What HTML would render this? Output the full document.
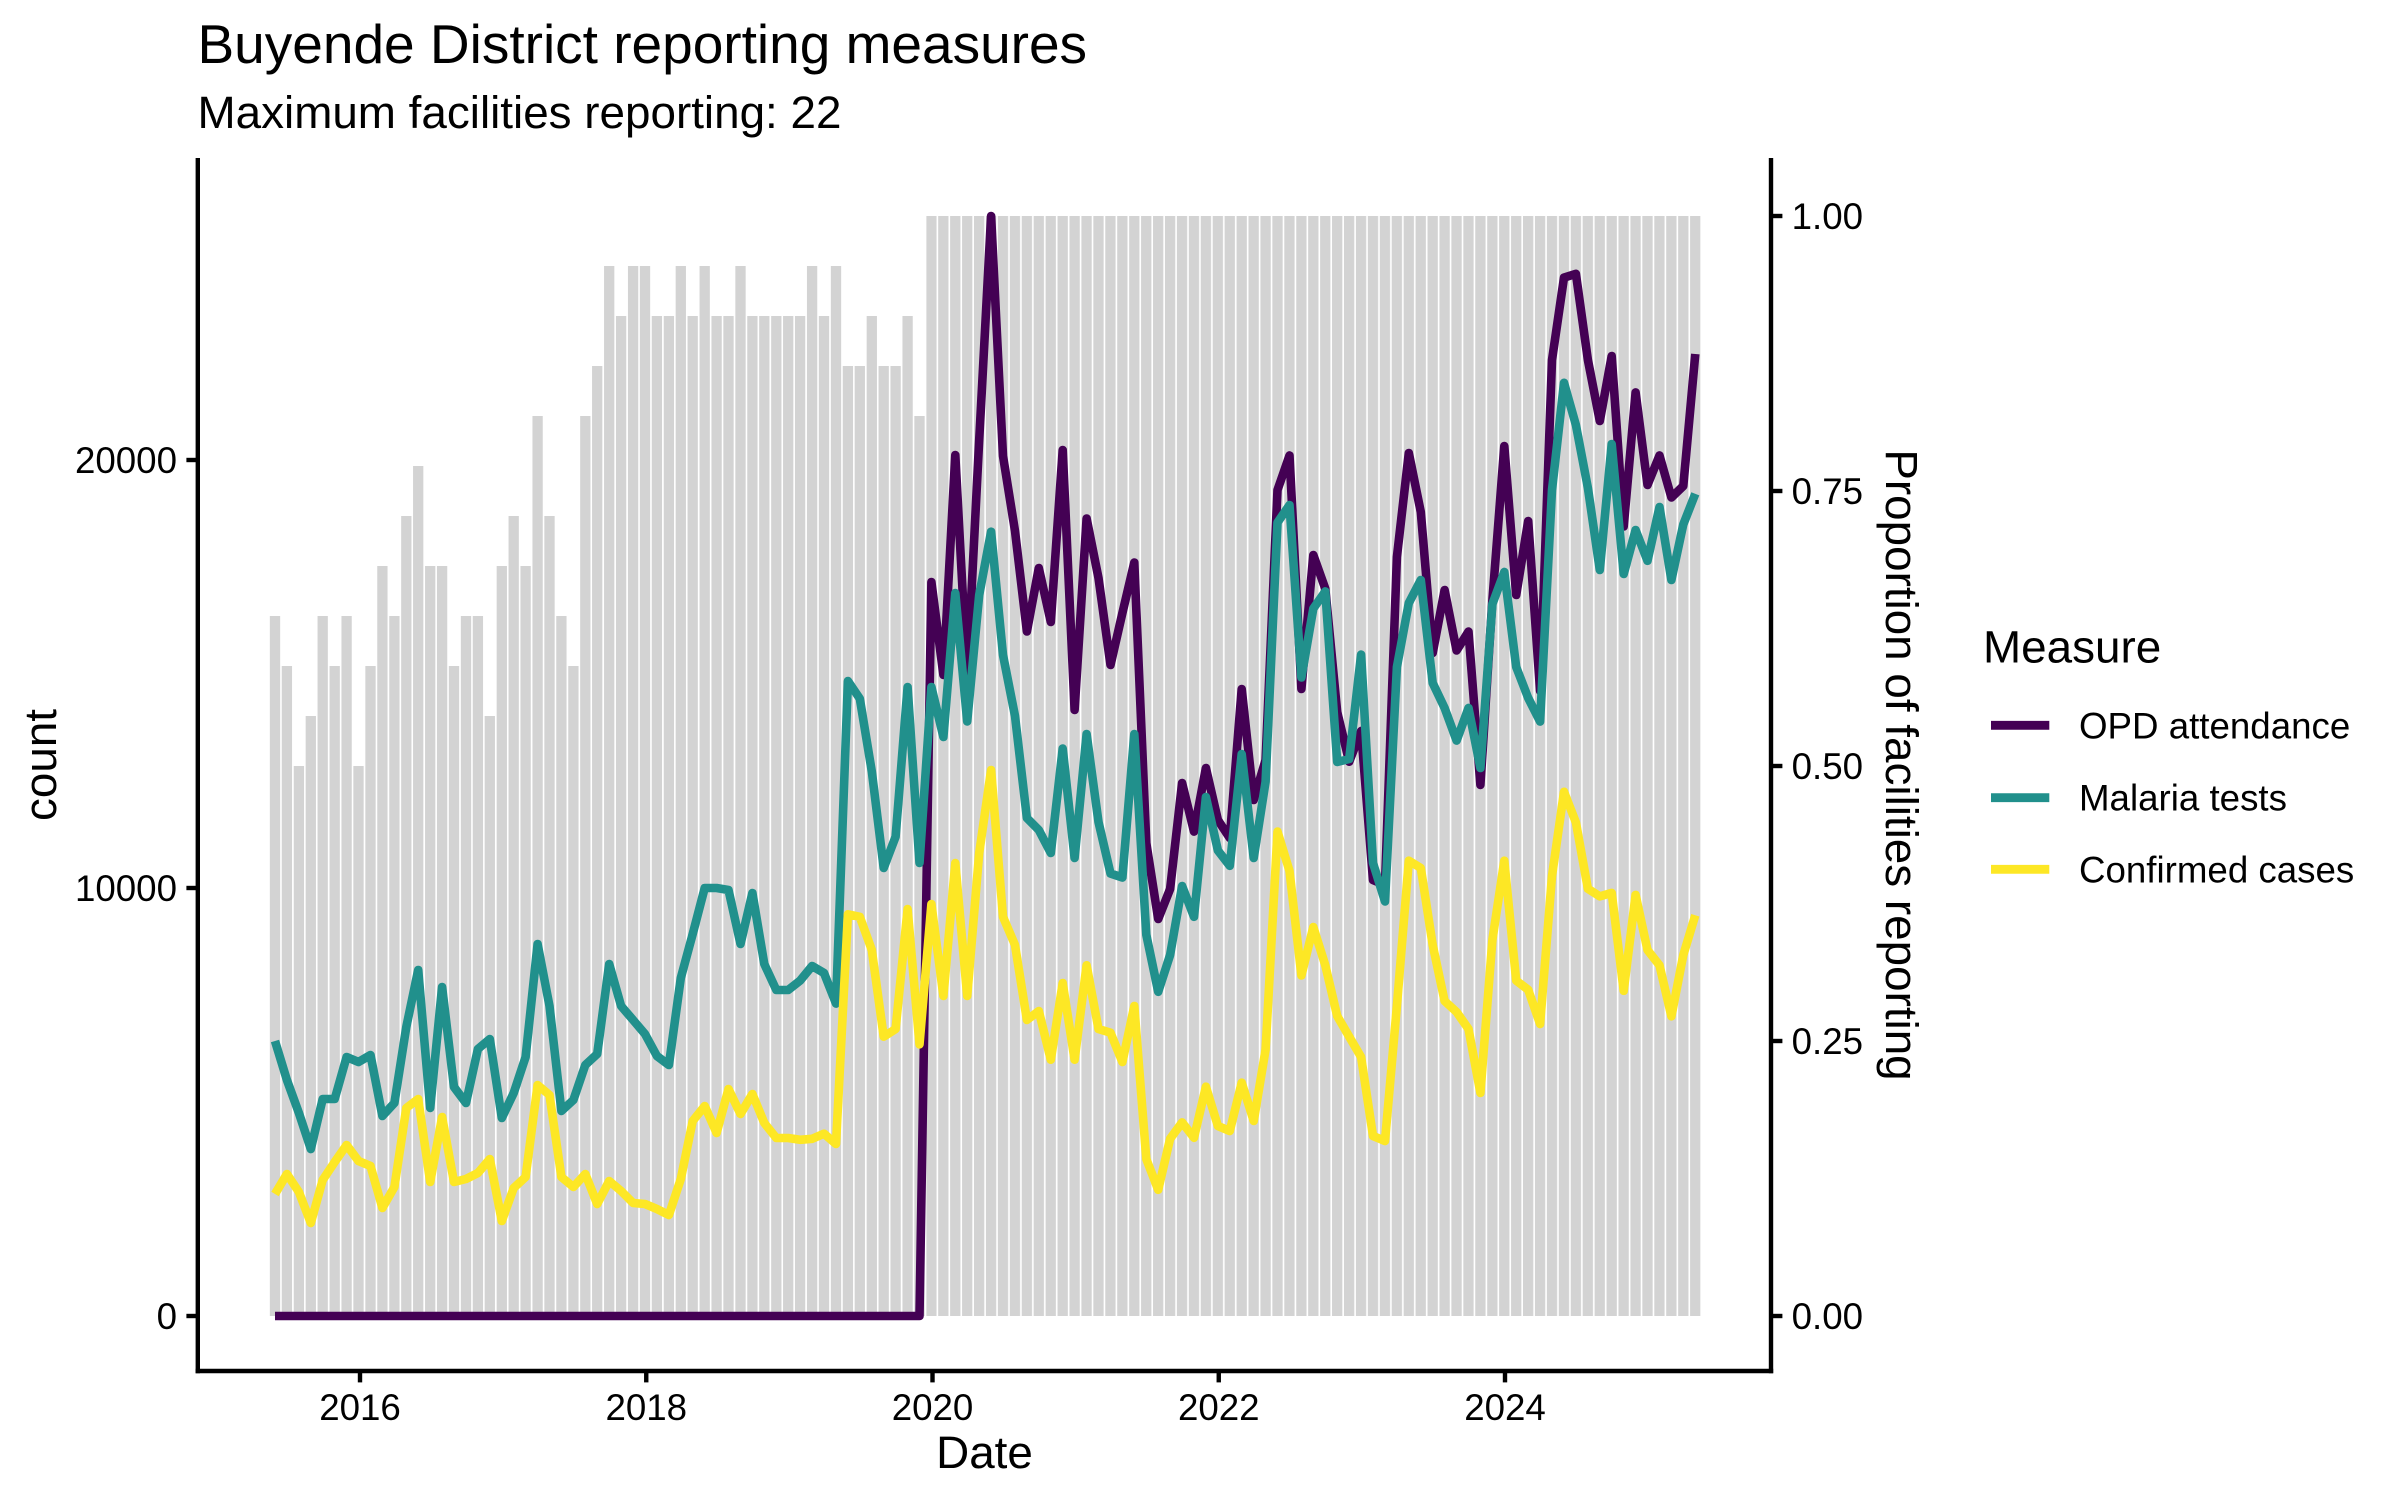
<!DOCTYPE html>
<html>
<head>
<meta charset="utf-8">
<style>
html,body{margin:0;padding:0;background:#ffffff;}
svg{display:block;}
</style>
</head>
<body>
<svg width="2400" height="1500" viewBox="0 0 2400 1500" xmlns="http://www.w3.org/2000/svg" font-family="'Liberation Sans', Arial, sans-serif">
<rect x="0" y="0" width="2400" height="1500" fill="#ffffff"/>
<defs>
<pattern id="bp" patternUnits="userSpaceOnUse" x="926.25" y="0" width="11.935" height="1500">
<rect x="0" y="0" width="10.3" height="1500" fill="#D3D3D3"/>
</pattern>
</defs>
<text x="197.5" y="63" font-size="55" fill="#000">Buyende District reporting measures</text>
<text x="197.5" y="128" font-size="45.8" fill="#000">Maximum facilities reporting: 22</text>
<g fill="#D3D3D3">
<rect x="269.85" y="616" width="10.3" height="700"/>
<rect x="281.75" y="666" width="10.3" height="650"/>
<rect x="293.75" y="766" width="10.3" height="550"/>
<rect x="305.65" y="716" width="10.3" height="600"/>
<rect x="317.55" y="616" width="10.3" height="700"/>
<rect x="329.55" y="666" width="10.3" height="650"/>
<rect x="341.45" y="616" width="10.3" height="700"/>
<rect x="353.35" y="766" width="10.3" height="550"/>
<rect x="365.35" y="666" width="10.3" height="650"/>
<rect x="377.25" y="566" width="10.3" height="750"/>
<rect x="389.25" y="616" width="10.3" height="700"/>
<rect x="401.15" y="516" width="10.3" height="800"/>
<rect x="413.05" y="466" width="10.3" height="850"/>
<rect x="425.05" y="566" width="10.3" height="750"/>
<rect x="436.95" y="566" width="10.3" height="750"/>
<rect x="448.85" y="666" width="10.3" height="650"/>
<rect x="460.85" y="616" width="10.3" height="700"/>
<rect x="472.75" y="616" width="10.3" height="700"/>
<rect x="484.65" y="716" width="10.3" height="600"/>
<rect x="496.65" y="566" width="10.3" height="750"/>
<rect x="508.55" y="516" width="10.3" height="800"/>
<rect x="520.45" y="566" width="10.3" height="750"/>
<rect x="532.45" y="416" width="10.3" height="900"/>
<rect x="544.35" y="516" width="10.3" height="800"/>
<rect x="556.25" y="616" width="10.3" height="700"/>
<rect x="568.25" y="666" width="10.3" height="650"/>
<rect x="580.15" y="416" width="10.3" height="900"/>
<rect x="592.05" y="366" width="10.3" height="950"/>
<rect x="604.05" y="266" width="10.3" height="1050"/>
<rect x="615.95" y="316" width="10.3" height="1000"/>
<rect x="627.95" y="266" width="10.3" height="1050"/>
<rect x="639.85" y="266" width="10.3" height="1050"/>
<rect x="651.75" y="316" width="10.3" height="1000"/>
<rect x="663.75" y="316" width="10.3" height="1000"/>
<rect x="675.65" y="266" width="10.3" height="1050"/>
<rect x="687.55" y="316" width="10.3" height="1000"/>
<rect x="699.55" y="266" width="10.3" height="1050"/>
<rect x="711.45" y="316" width="10.3" height="1000"/>
<rect x="723.35" y="316" width="10.3" height="1000"/>
<rect x="735.35" y="266" width="10.3" height="1050"/>
<rect x="747.25" y="316" width="10.3" height="1000"/>
<rect x="759.15" y="316" width="10.3" height="1000"/>
<rect x="771.15" y="316" width="10.3" height="1000"/>
<rect x="783.05" y="316" width="10.3" height="1000"/>
<rect x="794.95" y="316" width="10.3" height="1000"/>
<rect x="806.95" y="266" width="10.3" height="1050"/>
<rect x="818.85" y="316" width="10.3" height="1000"/>
<rect x="830.85" y="266" width="10.3" height="1050"/>
<rect x="842.75" y="366" width="10.3" height="950"/>
<rect x="854.65" y="366" width="10.3" height="950"/>
<rect x="866.65" y="316" width="10.3" height="1000"/>
<rect x="878.55" y="366" width="10.3" height="950"/>
<rect x="890.45" y="366" width="10.3" height="950"/>
<rect x="902.45" y="316" width="10.3" height="1000"/>
<rect x="914.35" y="416" width="10.3" height="900"/>
</g>
<rect x="926.25" y="216" width="774.2" height="1100" fill="url(#bp)"/>
<g fill="none" stroke-width="8.6" stroke-linejoin="round" stroke-linecap="butt">
<polyline stroke="#440154" points="275,1316 919.5,1316 931.4,582 943.4,675 955.3,455 967.2,677 979.2,440 991.1,216 1003,456 1015,531 1026.9,631.5 1038.8,568 1050.8,622 1062.7,450 1074.6,710 1086.6,518.5 1098.5,578 1110.5,665 1122.4,613 1134.3,562.5 1146.3,843 1158.2,919 1170.1,889 1182.1,783 1194,831.6 1205.9,768 1217.9,820 1229.8,838 1241.7,689 1253.7,800 1265.6,760 1277.5,490 1289.5,455.5 1301.4,689 1313.3,555 1325.3,588.7 1337.2,712 1349.2,761.7 1361.1,731 1373,880 1385,885 1396.9,557 1408.8,453 1420.8,512 1432.7,653 1444.6,590 1456.6,650.5 1468.5,631.6 1480.4,785 1492.4,600 1504.3,446 1516.2,595 1528.2,521 1540.1,691 1552,360 1564,277.6 1575.9,273.8 1587.9,360 1599.8,421 1611.7,356 1623.7,526.5 1635.6,392.4 1647.5,485 1659.5,455.5 1671.4,497.5 1683.3,486 1695.3,354"/>
<polyline stroke="#21908C" points="275,1041 286.9,1080 298.9,1113 310.8,1149 322.7,1099 334.7,1099 346.6,1057 358.5,1062 370.5,1055 382.4,1116 394.4,1103 406.3,1027 418.2,970 430.2,1108 442.1,987 454,1087 466,1103 477.9,1049 489.8,1039 501.8,1118 513.7,1093 525.6,1057 537.6,944 549.5,1006 561.4,1111 573.4,1100 585.3,1065 597.2,1054 609.2,964 621.1,1006 633.1,1020 645,1034 656.9,1056 668.9,1065 680.8,978 692.7,934 704.7,888 716.6,888 728.5,890 740.5,944 752.4,893 764.3,964 776.3,990 788.2,990 800.1,980.6 812.1,966 824,973 836,1003.6 847.9,681 859.8,698.6 871.8,771.4 883.7,868 895.6,836.7 907.6,687 919.5,863 931.4,687 943.4,737 955.3,593 967.2,721.5 979.2,595 991.1,531.7 1003,655 1015,716 1026.9,818 1038.8,830 1050.8,853 1062.7,748.5 1074.6,858 1086.6,734 1098.5,822 1110.5,873.5 1122.4,877.5 1134.3,734 1146.3,934.7 1158.2,991.8 1170.1,955 1182.1,886 1194,916.8 1205.9,797 1217.9,850.5 1229.8,865.8 1241.7,754 1253.7,858 1265.6,781.6 1277.5,522.5 1289.5,505 1301.4,677.5 1313.3,608.6 1325.3,591.4 1337.2,762 1349.2,759 1361.1,654.6 1373,863 1385,901.5 1396.9,667 1408.8,603 1420.8,580 1432.7,683 1444.6,708 1456.6,740.6 1468.5,708 1480.4,768 1492.4,604 1504.3,572 1516.2,667 1528.2,698 1540.1,721.5 1552,490 1564,382.8 1575.9,425 1587.9,488 1599.8,570 1611.7,444 1623.7,574 1635.6,530 1647.5,560.8 1659.5,507 1671.4,580 1683.3,524.4 1695.3,493.8"/>
<polyline stroke="#FDE725" points="275,1194 286.9,1174 298.9,1192 310.8,1223 322.7,1180 334.7,1162 346.6,1145 358.5,1161 370.5,1166 382.4,1208 394.4,1187 406.3,1108 418.2,1099 430.2,1182 442.1,1117 454,1182 466,1179 477.9,1173 489.8,1159 501.8,1221 513.7,1188 525.6,1177 537.6,1085 549.5,1095 561.4,1177 573.4,1187 585.3,1174 597.2,1204 609.2,1181 621.1,1191 633.1,1203 645,1204 656.9,1209 668.9,1215 680.8,1179 692.7,1121 704.7,1106 716.6,1133 728.5,1089 740.5,1114 752.4,1094 764.3,1123 776.3,1138 788.2,1138 800.1,1139.8 812.1,1138.8 824,1133.7 836,1144 847.9,914.3 859.8,916.8 871.8,950 883.7,1036.7 895.6,1029 907.6,909 919.5,1044.4 931.4,904 943.4,996 955.3,863 967.2,996 979.2,853 991.1,770 1003,916.8 1015,945 1026.9,1020 1038.8,1011 1050.8,1059.7 1062.7,983 1074.6,1059.7 1086.6,965.3 1098.5,1029 1110.5,1032.7 1122.4,1062 1134.3,1006 1146.3,1159 1158.2,1189.8 1170.1,1138.8 1182.1,1122.4 1194,1137.8 1205.9,1086.7 1217.9,1126 1229.8,1131 1241.7,1082.7 1253.7,1121 1265.6,1049.5 1277.5,831.6 1289.5,871 1301.4,975.5 1313.3,927 1325.3,965.3 1337.2,1016 1349.2,1036.7 1361.1,1057 1373,1136 1385,1141 1396.9,1006 1408.8,860.7 1420.8,868 1432.7,945 1444.6,1001 1456.6,1012 1468.5,1029 1480.4,1092.9 1492.4,939.8 1504.3,860.7 1516.2,980.6 1528.2,989.8 1540.1,1024 1552,876 1564,791.8 1575.9,822.4 1587.9,888.8 1599.8,896.4 1611.7,892.9 1623.7,990.8 1635.6,894.9 1647.5,950 1659.5,965.3 1671.4,1016.3 1683.3,955 1695.3,915.3"/>
</g>
<g stroke="#000" stroke-width="4.4" fill="none">
<line x1="197.8" y1="158" x2="197.8" y2="1373.2"/>
<line x1="195.6" y1="1371" x2="1773.2" y2="1371"/>
<line x1="1771" y1="158" x2="1771" y2="1373.2"/>
<line x1="186.4" y1="1316" x2="197.8" y2="1316"/>
<line x1="186.4" y1="888" x2="197.8" y2="888"/>
<line x1="186.4" y1="460" x2="197.8" y2="460"/>
<line x1="1771" y1="1316" x2="1782.4" y2="1316"/>
<line x1="1771" y1="1041" x2="1782.4" y2="1041"/>
<line x1="1771" y1="766" x2="1782.4" y2="766"/>
<line x1="1771" y1="491" x2="1782.4" y2="491"/>
<line x1="1771" y1="216" x2="1782.4" y2="216"/>
<line x1="360" y1="1371" x2="360" y2="1382.4"/>
<line x1="646.25" y1="1371" x2="646.25" y2="1382.4"/>
<line x1="932.5" y1="1371" x2="932.5" y2="1382.4"/>
<line x1="1218.75" y1="1371" x2="1218.75" y2="1382.4"/>
<line x1="1505" y1="1371" x2="1505" y2="1382.4"/>
</g>
<g font-size="36.7" fill="#000">
<text x="177" y="1329" text-anchor="end">0</text>
<text x="177" y="901" text-anchor="end">10000</text>
<text x="177" y="473" text-anchor="end">20000</text>
<text x="1791.6" y="1329">0.00</text>
<text x="1791.6" y="1054">0.25</text>
<text x="1791.6" y="779">0.50</text>
<text x="1791.6" y="504">0.75</text>
<text x="1791.6" y="229">1.00</text>
<text x="360" y="1420" text-anchor="middle">2016</text>
<text x="646.25" y="1420" text-anchor="middle">2018</text>
<text x="932.5" y="1420" text-anchor="middle">2020</text>
<text x="1218.75" y="1420" text-anchor="middle">2022</text>
<text x="1505" y="1420" text-anchor="middle">2024</text>
</g>
<g font-size="45.8" fill="#000">
<text x="984.5" y="1468" text-anchor="middle">Date</text>
<text transform="translate(56,765) rotate(-90)" text-anchor="middle">count</text>
<text transform="translate(1886,765) rotate(90)" text-anchor="middle">Proportion of facilities reporting</text>
</g>
<text x="1983" y="662.7" font-size="45.8" fill="#000">Measure</text>
<g stroke-width="8.9" stroke-linecap="butt">
<line x1="1991" y1="725.3" x2="2049.3" y2="725.3" stroke="#440154"/>
<line x1="1991" y1="797.7" x2="2049.3" y2="797.7" stroke="#21908C"/>
<line x1="1991" y1="869.3" x2="2049.3" y2="869.3" stroke="#FDE725"/>
</g>
<g font-size="36.7" fill="#000">
<text x="2079" y="738.3">OPD attendance</text>
<text x="2079" y="810.7">Malaria tests</text>
<text x="2079" y="882.7">Confirmed cases</text>
</g>
</svg>
</body>
</html>
